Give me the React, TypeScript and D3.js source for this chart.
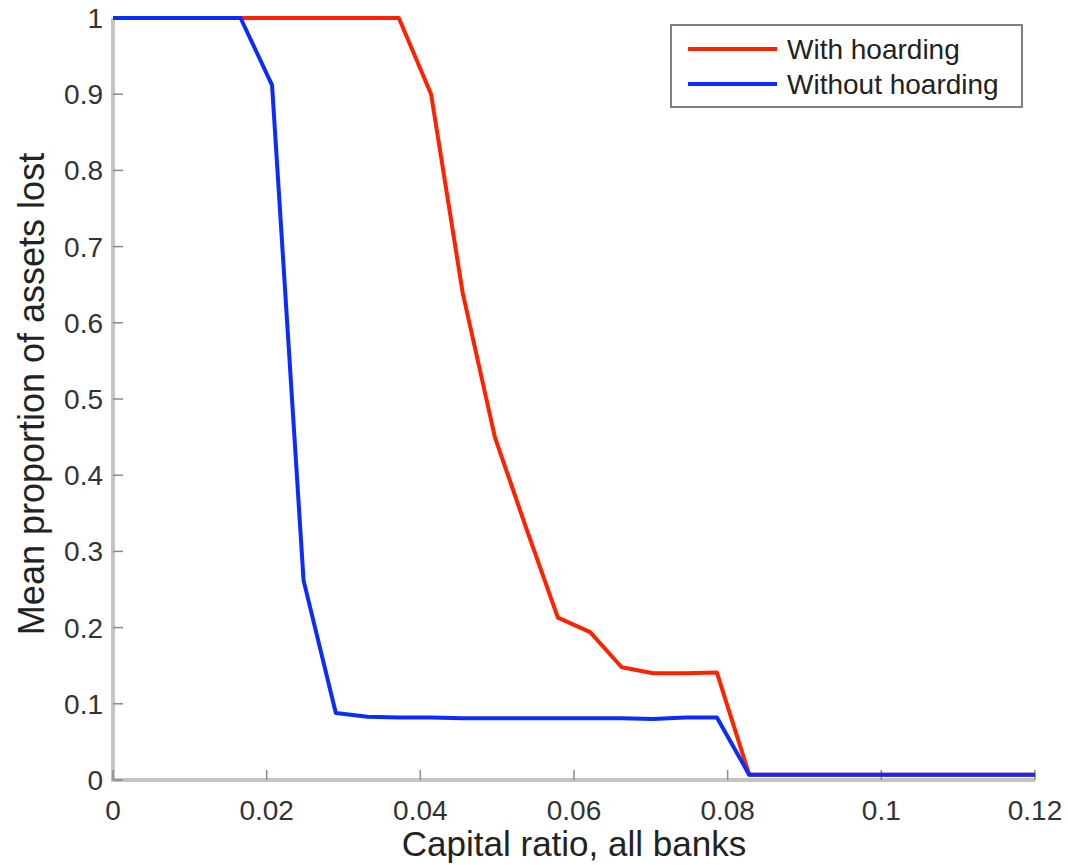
import React from 'react';
import * as d3 from 'd3';

// capital ratio sample points (x axis)
const capitalRatio = [
  0, 0.0041, 0.0083, 0.0124, 0.0166, 0.0207, 0.0248, 0.029, 0.0331, 0.0372,
  0.0414, 0.0455, 0.0497, 0.0538, 0.0579, 0.0621, 0.0662, 0.0703, 0.0745, 0.0786,
  0.0828, 0.0869, 0.091, 0.0952, 0.0993, 0.1034, 0.1076, 0.1117, 0.1159, 0.12,
];

const withHoarding = [
  1, 1, 1, 1, 1, 1, 1, 1, 1, 1,
  0.9, 0.64, 0.45, 0.33, 0.213, 0.194, 0.148, 0.14, 0.14, 0.141,
  0.007, 0.007, 0.007, 0.007, 0.007, 0.007, 0.007, 0.007, 0.007, 0.007,
];

const withoutHoarding = [
  1, 1, 1, 1, 1, 0.912, 0.262, 0.088, 0.083, 0.082,
  0.082, 0.081, 0.081, 0.081, 0.081, 0.081, 0.081, 0.08, 0.082, 0.082,
  0.007, 0.007, 0.007, 0.007, 0.007, 0.007, 0.007, 0.007, 0.007, 0.007,
];

const xTicks = [0, 0.02, 0.04, 0.06, 0.08, 0.1, 0.12];
const yTicks = [0, 0.1, 0.2, 0.3, 0.4, 0.5, 0.6, 0.7, 0.8, 0.9, 1];

const seriesNames = ['With hoarding', 'Without hoarding'];
const seriesColors = ['#ff2200', '#0a2cff'];

const width = 1068;
const height = 865;
const margin = { top: 18, right: 33, bottom: 85, left: 113 };
const font = '"Liberation Sans", Arial, sans-serif';

export default function App() {
  const x = d3
    .scaleLinear()
    .domain([0, 0.12])
    .range([margin.left, width - margin.right]);
  const y = d3
    .scaleLinear()
    .domain([0, 1])
    .range([height - margin.bottom, margin.top]);

  const line = d3
    .line<number>()
    .x((d, i) => x(capitalRatio[i]))
    .y((d) => y(d));

  const series = [withHoarding, withoutHoarding];
  const x0 = x(0);
  const y0 = y(0);

  return (
    <div style={{ position: 'absolute', left: 0, top: 0 }}>
      <svg width={width} height={height} style={{ display: 'block', background: '#fff' }}>
        {/* axes */}
        <line x1={x0} x2={x0} y1={y(1)} y2={y0 + 2} stroke="#c4c4c4" strokeWidth={4} />
        <line x1={x0 - 2} x2={x(0.12)} y1={y0} y2={y0} stroke="#c4c4c4" strokeWidth={4} />

        {yTicks.map((t) => (
          <g key={'y' + t}>
            <line x1={x0} x2={x0 + 10} y1={y(t)} y2={y(t)} stroke="#8a8a8a" strokeWidth={1.5} />
            <text
              x={x0 - 10}
              y={y(t)}
              dy="0.36em"
              textAnchor="end"
              fontFamily={font}
              fontSize={28}
              fill="#333"
            >
              {d3.format('~g')(t)}
            </text>
          </g>
        ))}

        {xTicks.map((t) => (
          <g key={'x' + t}>
            <line x1={x(t)} x2={x(t)} y1={y0} y2={y0 - 10} stroke="#8a8a8a" strokeWidth={1.5} />
            <text
              x={x(t)}
              y={y0 + 40}
              textAnchor="middle"
              fontFamily={font}
              fontSize={28}
              fill="#333"
            >
              {d3.format('~g')(t)}
            </text>
          </g>
        ))}

        {/* data lines */}
        {series.map((s, i) => (
          <path
            key={seriesNames[i]}
            d={line(s) ?? ''}
            fill="none"
            stroke={seriesColors[i]}
            strokeWidth={4}
            strokeLinejoin="round"
          />
        ))}

        {/* axis labels */}
        <text
          x={574}
          y={856}
          textAnchor="middle"
          fontFamily={font}
          fontSize={35}
          fill="#222"
        >
          Capital ratio, all banks
        </text>
        <text
          transform="translate(44,394) rotate(-90)"
          textAnchor="middle"
          fontFamily={font}
          fontSize={36}
          fill="#222"
        >
          Mean proportion of assets lost
        </text>

        {/* legend */}
        <rect x={671} y={25} width={351} height={82} fill="#fff" stroke="#808080" strokeWidth={2} />
        {seriesNames.map((name, i) => (
          <g key={'leg' + name}>
            <line
              x1={688}
              x2={777}
              y1={49 + i * 35}
              y2={49 + i * 35}
              stroke={seriesColors[i]}
              strokeWidth={4}
            />
            <text
              x={787}
              y={49 + i * 35}
              dy="0.36em"
              fontFamily={font}
              fontSize={28}
              fill="#222"
            >
              {name}
            </text>
          </g>
        ))}
      </svg>
    </div>
  );
}
